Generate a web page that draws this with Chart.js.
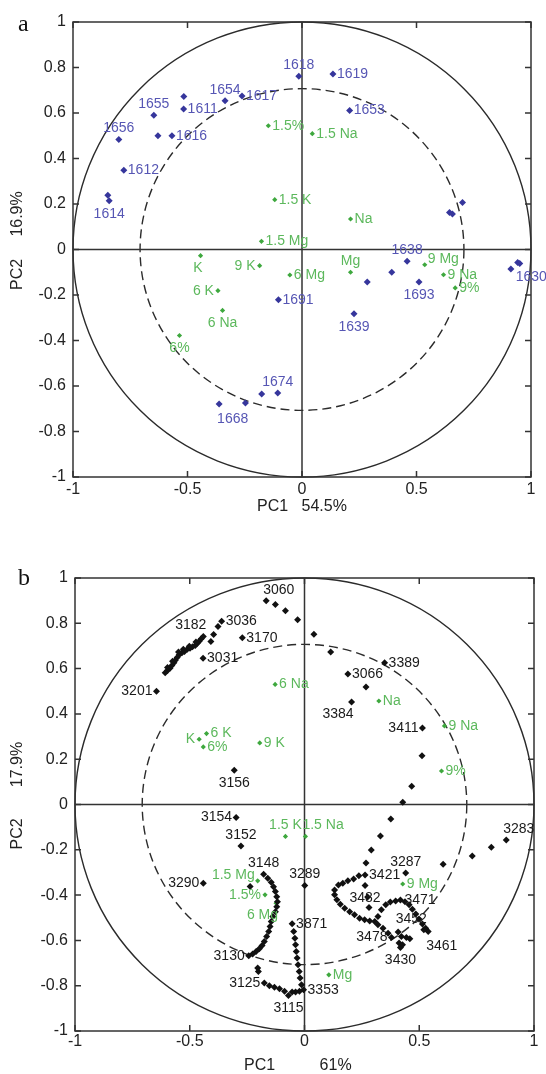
<!DOCTYPE html>
<html>
<head>
<meta charset="utf-8">
<script src="https://cdn.jsdelivr.net/npm/chart.js@4.4.0/dist/chart.umd.min.js"></script>
<style>
body { margin: 0; background: #fff; width: 546px; height: 1074px; overflow: hidden; }
.box { position: absolute; left: 0; width: 546px; }
</style>
</head>
<body>
<div class="box" style="top:0;height:532px"><canvas id="chartA"></canvas></div>
<div class="box" style="top:532px;height:542px"><canvas id="chartB"></canvas></div>
<script>
// ---- panel a : loadings (blue = samples, green = treatments)
const aBlueNames = ['', '1614', '1656', '1655', '', '1611', '', '1616', '1612', '1654', '1617', '1618', '1619', '1653', '', '', '', '1691', '', '1674', '1668', '', '', '', '1638', '1693', '1639', '', '1630', ''];
const aBlueX = [-0.848, -0.842, -0.800, -0.647, -0.516, -0.517, -0.629, -0.568, -0.778, -0.336, -0.262, -0.014, 0.135, 0.208, 0.701, 0.644, 0.657, -0.103, -0.176, -0.106, -0.362, -0.247, 0.285, 0.392, 0.459, 0.511, 0.227, 0.912, 0.942, 0.951];
const aBlueY = [0.238, 0.214, 0.483, 0.590, 0.673, 0.618, 0.500, 0.500, 0.348, 0.654, 0.675, 0.761, 0.771, 0.611, 0.207, 0.163, 0.156, -0.221, -0.635, -0.631, -0.679, -0.675, -0.143, -0.100, -0.052, -0.143, -0.282, -0.086, -0.057, -0.062];

const aGreenNames = ['1.5%', '1.5 Na', '1.5 K', 'Na', '1.5 Mg', 'K', '9 K', '6 Mg', '6 K', '6 Na', '6%', 'Mg', '9 Mg', '9 Na', '9%'];
const aGreenX = [-0.147, 0.045, -0.119, 0.212, -0.177, -0.443, -0.185, -0.053, -0.367, -0.347, -0.535, 0.212, 0.536, 0.618, 0.669];
const aGreenY = [0.544, 0.509, 0.219, 0.134, 0.036, -0.027, -0.071, -0.112, -0.181, -0.268, -0.378, -0.100, -0.067, -0.111, -0.169];

// ---- panel b : black sample loadings, grouped by the runs seen in the plot
const bArcNames = ['3060', '', '', '', '', '', '3066', '3389', '', '3384', '3411', '', '', '', '', '', '', '', '3421', '3482', '', '', '3287', '', '', '', '3283'];
const bArcX = [-0.167, -0.127, -0.083, -0.030, 0.041, 0.114, 0.189, 0.349, 0.268, 0.205, 0.514, 0.512, 0.467, 0.428, 0.376, 0.331, 0.291, 0.268, 0.264, 0.264, 0.275, 0.281, 0.441, 0.604, 0.731, 0.814, 0.879];
const bArcY = [0.900, 0.883, 0.855, 0.816, 0.752, 0.673, 0.576, 0.626, 0.519, 0.452, 0.338, 0.215, 0.081, 0.010, -0.064, -0.139, -0.201, -0.258, -0.311, -0.358, -0.408, -0.455, -0.302, -0.264, -0.227, -0.189, -0.157];

const bTopNames = ['3036', '', '', '', '3170', '3031', '3201', '3156', '3154', '3152', '3290', ''];
const bTopX = [-0.361, -0.377, -0.396, -0.408, -0.271, -0.442, -0.645, -0.306, -0.298, -0.277, -0.441, -0.237];
const bTopY = [0.809, 0.786, 0.751, 0.720, 0.736, 0.646, 0.500, 0.151, -0.057, -0.183, -0.348, -0.362];

const b3182Names = ['3182', '', '', '', '', '', '', '', '', '', '', '', '', '', '', '', '', '', '', '', '', '', '', ''];
const b3182X = [-0.441, -0.450, -0.459, -0.467, -0.476, -0.488, -0.499, -0.511, -0.523, -0.534, -0.546, -0.555, -0.563, -0.569, -0.578, -0.586, -0.597, -0.607, -0.473, -0.502, -0.528, -0.549, -0.575, -0.597];
const b3182Y = [0.742, 0.732, 0.721, 0.712, 0.702, 0.696, 0.690, 0.685, 0.676, 0.670, 0.661, 0.649, 0.637, 0.626, 0.614, 0.602, 0.592, 0.582, 0.717, 0.699, 0.685, 0.673, 0.632, 0.605];

const b3148Names = ['3148', '', '', '', '', '', '', '', '', '', '', '', '', '', '', '', '', '', '', '3130', '', '', '3125', '', '', '', '', '3115'];
const b3148X = [-0.178, -0.160, -0.145, -0.135, -0.127, -0.121, -0.118, -0.121, -0.127, -0.138, -0.145, -0.150, -0.156, -0.165, -0.175, -0.185, -0.197, -0.211, -0.226, -0.243, -0.204, -0.201, -0.175, -0.153, -0.131, -0.109, -0.087, -0.070];
const b3148Y = [-0.308, -0.326, -0.343, -0.363, -0.384, -0.407, -0.429, -0.451, -0.473, -0.495, -0.517, -0.539, -0.561, -0.583, -0.605, -0.622, -0.637, -0.649, -0.660, -0.668, -0.722, -0.737, -0.788, -0.800, -0.807, -0.813, -0.825, -0.843];

const b3871Names = ['3871', '', '', '', '', '', '', '', '', '', '3353', '', '', '', '3289'];
const b3871X = [-0.054, -0.047, -0.042, -0.039, -0.036, -0.032, -0.028, -0.023, -0.019, -0.013, -0.004, -0.022, -0.039, -0.054, 0.001];
const b3871Y = [-0.527, -0.561, -0.590, -0.619, -0.649, -0.678, -0.707, -0.737, -0.766, -0.796, -0.818, -0.825, -0.828, -0.828, -0.358];

const bLoopNames = ['', '', '', '', '', '', '', '', '', '', '', '', '', '', '', '', '', '', '', '', '', '3471', '', '', '', '', '', '', '', '3461', '3452'];
const bLoopX = [0.237, 0.214, 0.189, 0.167, 0.148, 0.131, 0.131, 0.141, 0.156, 0.175, 0.197, 0.218, 0.240, 0.262, 0.284, 0.306, 0.320, 0.335, 0.354, 0.374, 0.397, 0.418, 0.438, 0.456, 0.470, 0.485, 0.499, 0.514, 0.528, 0.539, 0.520];
const bLoopY = [-0.315, -0.329, -0.337, -0.348, -0.355, -0.377, -0.399, -0.421, -0.440, -0.458, -0.473, -0.487, -0.502, -0.509, -0.514, -0.517, -0.495, -0.465, -0.443, -0.431, -0.426, -0.422, -0.429, -0.443, -0.462, -0.483, -0.505, -0.528, -0.546, -0.561, -0.553];

const bLowNames = ['', '', '', '3478', '', '', '', '', '', '3430', ''];
const bLowX = [0.320, 0.342, 0.364, 0.379, 0.408, 0.422, 0.444, 0.459, 0.412, 0.418, 0.427];
const bLowY = [-0.531, -0.546, -0.568, -0.587, -0.563, -0.583, -0.587, -0.593, -0.612, -0.631, -0.619];

const bGreenNames = ['6 Na', 'K', '6 K', '6%', '9 K', 'Na', '9 Na', '9%', '1.5 K', '1.5 Na', '1.5 Mg', '1.5%', '6 Mg', '9 Mg', 'Mg'];
const bGreenX = [-0.128, -0.459, -0.427, -0.441, -0.195, 0.324, 0.610, 0.597, -0.083, 0.004, -0.204, -0.172, -0.124, 0.428, 0.106];
const bGreenY = [0.530, 0.288, 0.313, 0.254, 0.272, 0.457, 0.347, 0.148, -0.141, -0.141, -0.337, -0.399, -0.436, -0.351, -0.752];

// where each text sits next to its marker (default: right)
const aPlace = {'1614': 'b', '1656': 'a', '1655': 'a', '1654': 'a', '1618': 'a', '1674': 'a', '1668': 'br', '1638': 'a', '1693': 'b', '1639': 'b', '1630': 'br',
  'K': 'bl', '9 K': 'l', '6 K': 'l', '6 Na': 'b', '6%': 'b', 'Mg': 'a', '9 Mg': 'ur'};
const bPlace = {'3060': 'ar', '3182': 'al', '3201': 'l', '3156': 'b', '3384': 'bl', '3411': 'l', '3154': 'l', '3152': 'a', '3290': 'l', '3148': 'a', '3130': 'l',
  '3125': 'l', '3115': 'b', '3289': 'a', '3287': 'a', '3283': 'ar', '3482': 'b', '3478': 'l', '3452': 'al', '3461': 'br', '3430': 'b',
  'K': 'l', '1.5 K': 'a', '1.5 Na': 'ar', '1.5 Mg': 'ul', '1.5%': 'l', '6 Mg': 'bl'};

const offs = {r: [4, 0, 'left'], l: [-4, 0, 'right'], a: [0, -11, 'center'], b: [0, 13, 'center'], ar: [-3, -11, 'left'], al: [3, -11, 'right'],
  br: [-2, 15, 'left'], bl: [2, 12, 'right'], ur: [3, -6, 'left'], ul: [-3, -6, 'right']};

const FONT = '"Liberation Sans", Arial, sans-serif';

function pts(xs, ys) {
  return xs.map((v, i) => ({x: v, y: ys[i]}));
}

function ds(names, xs, ys, mark, text, r) {
  return {
    data: pts(xs, ys), names: names, textColor: text,
    pointStyle: 'rectRot', pointRadius: r, pointBackgroundColor: mark, pointBorderColor: mark, pointBorderWidth: 0,
    showLine: false
  };
}

const pcaDecor = {
  id: 'pcaDecor',
  beforeDatasetsDraw(chart, args, opts) {
    const {ctx, chartArea: ca, scales: {x, y}} = chart;
    const cx = x.getPixelForValue(0), cy = y.getPixelForValue(0);
    const rx = x.getPixelForValue(1) - cx, ry = cy - y.getPixelForValue(1);
    ctx.save();
    ctx.strokeStyle = '#2b2b2b';
    ctx.lineWidth = 1.4;
    ctx.beginPath();
    ctx.ellipse(cx, cy, rx, ry, 0, 0, Math.PI * 2);
    ctx.stroke();
    ctx.setLineDash([9, 5]);
    ctx.beginPath();
    ctx.ellipse(cx, cy, rx * Math.SQRT1_2, ry * Math.SQRT1_2, 0, 0, Math.PI * 2);
    ctx.stroke();
    ctx.setLineDash([]);
    ctx.strokeStyle = '#333';
    ctx.lineWidth = 1.5;
    ctx.beginPath();
    ctx.moveTo(cx, ca.top); ctx.lineTo(cx, ca.bottom);
    ctx.moveTo(ca.left, cy); ctx.lineTo(ca.right, cy);
    ctx.stroke();
    ctx.strokeRect(ca.left, ca.top, ca.right - ca.left, ca.bottom - ca.top);
    ctx.beginPath();
    x.ticks.forEach(t => {
      const p = x.getPixelForValue(t.value);
      ctx.moveTo(p, ca.top); ctx.lineTo(p, ca.top + 6);
      ctx.moveTo(p, ca.bottom); ctx.lineTo(p, ca.bottom - 6);
    });
    y.ticks.forEach(t => {
      const p = y.getPixelForValue(t.value);
      ctx.moveTo(ca.left, p); ctx.lineTo(ca.left + 6, p);
      ctx.moveTo(ca.right, p); ctx.lineTo(ca.right - 6, p);
    });
    ctx.stroke();
    ctx.restore();
  },
  afterDatasetsDraw(chart, args, opts) {
    const ctx = chart.ctx;
    ctx.save();
    ctx.font = '14px ' + FONT;
    ctx.textBaseline = 'middle';
    chart.data.datasets.forEach((d, di) => {
      const meta = chart.getDatasetMeta(di);
      meta.data.forEach((el, i) => {
        const name = d.names[i];
        if (!name) return;
        const o = offs[opts.place[name] || 'r'];
        ctx.fillStyle = d.textColor;
        ctx.textAlign = o[2];
        ctx.fillText(name, el.x + o[0], el.y + o[1]);
      });
    });
    ctx.fillStyle = '#111';
    ctx.textAlign = 'left';
    ctx.textBaseline = 'alphabetic';
    ctx.font = '24px "Liberation Serif", serif';
    ctx.fillText(opts.letter, 18, opts.ly);
    ctx.restore();
  }
};

function fmt(v) {
  return String(Math.round(v * 10) / 10);
}

function makeChart(id, datasets, cfg) {
  return new Chart(document.getElementById(id), {
    type: 'scatter',
    data: {datasets: datasets},
    plugins: [pcaDecor],
    options: {
      responsive: true,
      maintainAspectRatio: false,
      animation: false,
      layout: {padding: cfg.pad},
      plugins: {
        legend: {display: false},
        tooltip: {enabled: false},
        pcaDecor: {letter: cfg.letter, ly: cfg.ly, place: cfg.place}
      },
      scales: {
        x: {
          type: 'linear', min: -1, max: 1,
          afterFit: s => { s.height = cfg.xh; },
          grid: {display: false, drawTicks: false},
          border: {display: false},
          ticks: {stepSize: 0.5, padding: cfg.xtp, color: '#222', maxRotation: 0, autoSkip: false,
            font: {family: FONT, size: 16}, callback: fmt},
          title: {display: true, text: cfg.xtitle, color: '#222', font: {family: FONT, size: 16, lineHeight: 1},
            padding: {top: 0, bottom: cfg.xtpad}}
        },
        y: {
          type: 'linear', min: -1, max: 1,
          afterFit: s => { s.width = cfg.yw; },
          grid: {display: false, drawTicks: false},
          border: {display: false},
          ticks: {stepSize: 0.2, padding: 7, color: '#222', autoSkip: false,
            font: {family: FONT, size: 16}, callback: fmt},
          title: {display: true, text: cfg.ytitle, color: '#222', font: {family: FONT, size: 16, lineHeight: 1},
            padding: {top: 10, bottom: 0}}
        }
      }
    }
  });
}

const BLUE = '#36369c', BLUE_T = '#5656b4';
const GREEN = '#3ea83e', GREEN_T = '#5cb85c';
const BLACK = '#111', BLACK_T = '#1a1a1a';
const NB = '\u00A0';

makeChart('chartA', [
  ds(aBlueNames, aBlueX, aBlueY, BLUE, BLUE_T, 3.5),
  ds(aGreenNames, aGreenX, aGreenY, GREEN, GREEN_T, 2.6)
], {
  pad: {left: 0, top: 22, right: 15, bottom: 15}, xh: 40, yw: 73, xtp: 3, xtpad: 2,
  xtitle: 'PC1' + NB.repeat(3) + '54.5%', ytitle: NB.repeat(4) + 'PC2' + NB.repeat(5) + '16.9%',
  letter: 'a', ly: 31, place: aPlace
});

makeChart('chartB', [
  ds(bArcNames, bArcX, bArcY, BLACK, BLACK_T, 3.5),
  ds(bTopNames, bTopX, bTopY, BLACK, BLACK_T, 3.5),
  ds(b3182Names, b3182X, b3182Y, BLACK, BLACK_T, 3.5),
  ds(b3148Names, b3148X, b3148Y, BLACK, BLACK_T, 3.5),
  ds(b3871Names, b3871X, b3871Y, BLACK, BLACK_T, 3.5),
  ds(bLoopNames, bLoopX, bLoopY, BLACK, BLACK_T, 3.5),
  ds(bLowNames, bLowX, bLowY, BLACK, BLACK_T, 3.5),
  ds(bGreenNames, bGreenX, bGreenY, GREEN, GREEN_T, 2.6)
], {
  pad: {left: 0, top: 46, right: 12, bottom: 0}, xh: 43, yw: 75, xtp: 1, xtpad: 0,
  xtitle: 'PC1' + NB.repeat(10) + '61%' + NB.repeat(3), ytitle: NB.repeat(4) + 'PC2' + NB.repeat(7) + '17.9%',
  letter: 'b', ly: 53, place: bPlace
});
</script>
</body>
</html>
